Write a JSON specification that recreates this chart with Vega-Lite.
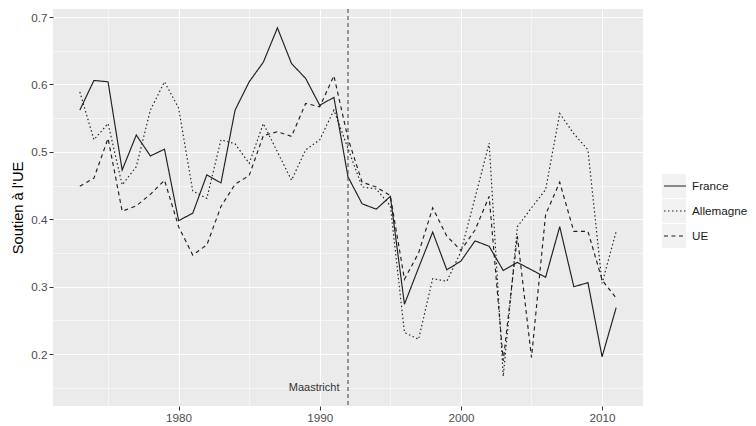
{
  "$schema": "https://vega.github.io/schema/vega-lite/v6.json",
  "width": 590,
  "height": 397,
  "autosize": "none",
  "padding": {"left": 53, "top": 9, "right": 113, "bottom": 20},
  "background": "white",
  "config": {
    "font": "Liberation Sans",
    "view": {"fill": "#EBEBEB", "stroke": null},
    "axis": {
      "labelColor": "#4D4D4D",
      "labelFontSize": 11.7,
      "labelFont": "Liberation Sans",
      "tickColor": "#333333",
      "tickSize": 4,
      "tickWidth": 1,
      "domain": false,
      "gridColor": "#FFFFFF"
    }
  },
  "datasets": {
    "soutien": [
      {"year": 1973, "serie": "France", "value": 0.562},
      {"year": 1974, "serie": "France", "value": 0.606},
      {"year": 1975, "serie": "France", "value": 0.604},
      {"year": 1976, "serie": "France", "value": 0.473},
      {"year": 1977, "serie": "France", "value": 0.525},
      {"year": 1978, "serie": "France", "value": 0.494},
      {"year": 1979, "serie": "France", "value": 0.504},
      {"year": 1980, "serie": "France", "value": 0.398},
      {"year": 1981, "serie": "France", "value": 0.409},
      {"year": 1982, "serie": "France", "value": 0.466},
      {"year": 1983, "serie": "France", "value": 0.454},
      {"year": 1984, "serie": "France", "value": 0.562},
      {"year": 1985, "serie": "France", "value": 0.604},
      {"year": 1986, "serie": "France", "value": 0.633},
      {"year": 1987, "serie": "France", "value": 0.684},
      {"year": 1988, "serie": "France", "value": 0.631},
      {"year": 1989, "serie": "France", "value": 0.609},
      {"year": 1990, "serie": "France", "value": 0.569},
      {"year": 1991, "serie": "France", "value": 0.581},
      {"year": 1992, "serie": "France", "value": 0.463},
      {"year": 1993, "serie": "France", "value": 0.423},
      {"year": 1994, "serie": "France", "value": 0.415},
      {"year": 1995, "serie": "France", "value": 0.434},
      {"year": 1996, "serie": "France", "value": 0.274},
      {"year": 1997, "serie": "France", "value": 0.328},
      {"year": 1998, "serie": "France", "value": 0.381},
      {"year": 1999, "serie": "France", "value": 0.325},
      {"year": 2000, "serie": "France", "value": 0.338},
      {"year": 2001, "serie": "France", "value": 0.368},
      {"year": 2002, "serie": "France", "value": 0.36},
      {"year": 2003, "serie": "France", "value": 0.324},
      {"year": 2004, "serie": "France", "value": 0.336},
      {"year": 2005, "serie": "France", "value": 0.325},
      {"year": 2006, "serie": "France", "value": 0.314},
      {"year": 2007, "serie": "France", "value": 0.389},
      {"year": 2008, "serie": "France", "value": 0.3},
      {"year": 2009, "serie": "France", "value": 0.306},
      {"year": 2010, "serie": "France", "value": 0.196},
      {"year": 2011, "serie": "France", "value": 0.269},
      {"year": 1973, "serie": "Allemagne", "value": 0.589},
      {"year": 1974, "serie": "Allemagne", "value": 0.518},
      {"year": 1975, "serie": "Allemagne", "value": 0.542},
      {"year": 1976, "serie": "Allemagne", "value": 0.451},
      {"year": 1977, "serie": "Allemagne", "value": 0.478},
      {"year": 1978, "serie": "Allemagne", "value": 0.562},
      {"year": 1979, "serie": "Allemagne", "value": 0.604},
      {"year": 1980, "serie": "Allemagne", "value": 0.565},
      {"year": 1981, "serie": "Allemagne", "value": 0.442},
      {"year": 1982, "serie": "Allemagne", "value": 0.431},
      {"year": 1983, "serie": "Allemagne", "value": 0.518},
      {"year": 1984, "serie": "Allemagne", "value": 0.512},
      {"year": 1985, "serie": "Allemagne", "value": 0.483},
      {"year": 1986, "serie": "Allemagne", "value": 0.542},
      {"year": 1987, "serie": "Allemagne", "value": 0.5},
      {"year": 1988, "serie": "Allemagne", "value": 0.458},
      {"year": 1989, "serie": "Allemagne", "value": 0.503},
      {"year": 1990, "serie": "Allemagne", "value": 0.518},
      {"year": 1991, "serie": "Allemagne", "value": 0.562},
      {"year": 1992, "serie": "Allemagne", "value": 0.505},
      {"year": 1993, "serie": "Allemagne", "value": 0.448},
      {"year": 1994, "serie": "Allemagne", "value": 0.445},
      {"year": 1995, "serie": "Allemagne", "value": 0.42},
      {"year": 1996, "serie": "Allemagne", "value": 0.232},
      {"year": 1997, "serie": "Allemagne", "value": 0.222},
      {"year": 1998, "serie": "Allemagne", "value": 0.312},
      {"year": 1999, "serie": "Allemagne", "value": 0.308},
      {"year": 2000, "serie": "Allemagne", "value": 0.352},
      {"year": 2001, "serie": "Allemagne", "value": 0.432},
      {"year": 2002, "serie": "Allemagne", "value": 0.513},
      {"year": 2003, "serie": "Allemagne", "value": 0.167},
      {"year": 2004, "serie": "Allemagne", "value": 0.389},
      {"year": 2005, "serie": "Allemagne", "value": 0.417},
      {"year": 2006, "serie": "Allemagne", "value": 0.444},
      {"year": 2007, "serie": "Allemagne", "value": 0.557},
      {"year": 2008, "serie": "Allemagne", "value": 0.527},
      {"year": 2009, "serie": "Allemagne", "value": 0.503},
      {"year": 2010, "serie": "Allemagne", "value": 0.305},
      {"year": 2011, "serie": "Allemagne", "value": 0.382},
      {"year": 1973, "serie": "UE", "value": 0.449},
      {"year": 1974, "serie": "UE", "value": 0.461},
      {"year": 1975, "serie": "UE", "value": 0.52},
      {"year": 1976, "serie": "UE", "value": 0.412},
      {"year": 1977, "serie": "UE", "value": 0.42},
      {"year": 1978, "serie": "UE", "value": 0.437},
      {"year": 1979, "serie": "UE", "value": 0.458},
      {"year": 1980, "serie": "UE", "value": 0.389},
      {"year": 1981, "serie": "UE", "value": 0.347},
      {"year": 1982, "serie": "UE", "value": 0.362},
      {"year": 1983, "serie": "UE", "value": 0.419},
      {"year": 1984, "serie": "UE", "value": 0.452},
      {"year": 1985, "serie": "UE", "value": 0.465},
      {"year": 1986, "serie": "UE", "value": 0.524},
      {"year": 1987, "serie": "UE", "value": 0.53},
      {"year": 1988, "serie": "UE", "value": 0.523},
      {"year": 1989, "serie": "UE", "value": 0.572},
      {"year": 1990, "serie": "UE", "value": 0.567},
      {"year": 1991, "serie": "UE", "value": 0.613},
      {"year": 1992, "serie": "UE", "value": 0.52},
      {"year": 1993, "serie": "UE", "value": 0.455},
      {"year": 1994, "serie": "UE", "value": 0.448},
      {"year": 1995, "serie": "UE", "value": 0.435},
      {"year": 1996, "serie": "UE", "value": 0.311},
      {"year": 1997, "serie": "UE", "value": 0.35},
      {"year": 1998, "serie": "UE", "value": 0.417},
      {"year": 1999, "serie": "UE", "value": 0.375},
      {"year": 2000, "serie": "UE", "value": 0.354},
      {"year": 2001, "serie": "UE", "value": 0.384},
      {"year": 2002, "serie": "UE", "value": 0.434},
      {"year": 2003, "serie": "UE", "value": 0.19},
      {"year": 2004, "serie": "UE", "value": 0.375},
      {"year": 2005, "serie": "UE", "value": 0.195},
      {"year": 2006, "serie": "UE", "value": 0.407},
      {"year": 2007, "serie": "UE", "value": 0.455},
      {"year": 2008, "serie": "UE", "value": 0.382},
      {"year": 2009, "serie": "UE", "value": 0.382},
      {"year": 2010, "serie": "UE", "value": 0.31},
      {"year": 2011, "serie": "UE", "value": 0.283}
    ],
    "traite": [{"year": 1992}],
    "annot": [{"year": 1989.6, "value": 0.15, "label": "Maastricht"}]
  },
  "layer": [
    {
      "data": {"name": "soutien"},
      "transform": [{"filter": "datum.year < 0"}],
      "mark": {"type": "point", "filled": true, "shape": "square", "opacity": 1},
      "encoding": {
        "x": {
          "field": "year",
          "type": "quantitative",
          "scale": {"domain": [1971.1, 2012.9], "nice": false, "zero": false},
          "axis": {"orient": "bottom", "values": [1975, 1985, 1995, 2005], "grid": true, "gridWidth": 0.55, "labels": false, "ticks": false, "title": null}
        },
        "y": {
          "field": "value",
          "type": "quantitative",
          "scale": {"domain": [0.123, 0.712], "nice": false, "zero": false},
          "axis": {"orient": "left", "values": [0.15, 0.25, 0.35, 0.45, 0.55, 0.65], "grid": true, "gridWidth": 0.55, "labels": false, "ticks": false, "title": null}
        },
        "color": {
          "field": "serie",
          "type": "nominal",
          "scale": {"domain": ["UE", "Allemagne", "France"], "range": ["#F2F2F2", "#F2F2F2", "#F2F2F2"]},
          "legend": {
            "orient": "none", "legendX": 609, "legendY": 165, "title": null, "padding": 0,
            "symbolType": "square", "symbolSize": 576, "symbolStrokeWidth": 0, "symbolOpacity": 1,
            "labelExpr": "''", "labelFontSize": 11.7, "labelOpacity": 0, "labelOffset": 4, "rowPadding": 1, "clipHeight": 24
          }
        }
      }
    },
    {
      "data": {"name": "soutien"},
      "mark": {"type": "line", "color": "#1F1F1F", "strokeWidth": 1.15},
      "encoding": {
        "x": {
          "field": "year",
          "type": "quantitative",
          "axis": {"orient": "bottom", "values": [1980, 1990, 2000, 2010], "format": "d", "grid": true, "gridWidth": 1.1, "title": null, "labelPadding": 2}
        },
        "y": {
          "field": "value",
          "type": "quantitative",
          "axis": {"orient": "left", "values": [0.2, 0.3, 0.4, 0.5, 0.6, 0.7], "format": ".1f", "grid": true, "gridWidth": 1.1, "title": "Soutien à l'UE", "titleFontSize": 14.7, "titleFontWeight": "normal", "titleColor": "#000000", "titlePadding": 5, "labelPadding": 2}
        },
        "strokeDash": {
          "field": "serie",
          "type": "nominal",
          "scale": {"domain": ["France", "Allemagne", "UE"], "range": [[1, 0], [1.5, 2.5], [4, 3.5]]},
          "legend": {
            "orient": "none", "legendX": 610, "legendY": 165, "title": null, "padding": 0,
            "symbolType": "stroke", "symbolSize": 484, "symbolStrokeWidth": 1.2, "symbolStrokeColor": "#1F1F1F",
            "labelFontSize": 11.7, "labelColor": "#1A1A1A", "labelOffset": 5, "rowPadding": 1, "clipHeight": 24
          }
        }
      }
    },
    {
      "data": {"name": "traite"},
      "mark": {"type": "rule", "color": "#4D4D4D", "strokeWidth": 1.1, "strokeDash": [4, 3]},
      "encoding": {
        "x": {"field": "year", "type": "quantitative", "axis": null}
      }
    },
    {
      "data": {"name": "annot"},
      "mark": {"type": "text", "fontSize": 11, "color": "#333333", "align": "center", "baseline": "middle"},
      "encoding": {
        "x": {"field": "year", "type": "quantitative", "axis": null},
        "y": {"field": "value", "type": "quantitative", "axis": null},
        "text": {"field": "label"}
      }
    }
  ],
  "resolve": {"axis": {"x": "independent", "y": "independent"}}
}
